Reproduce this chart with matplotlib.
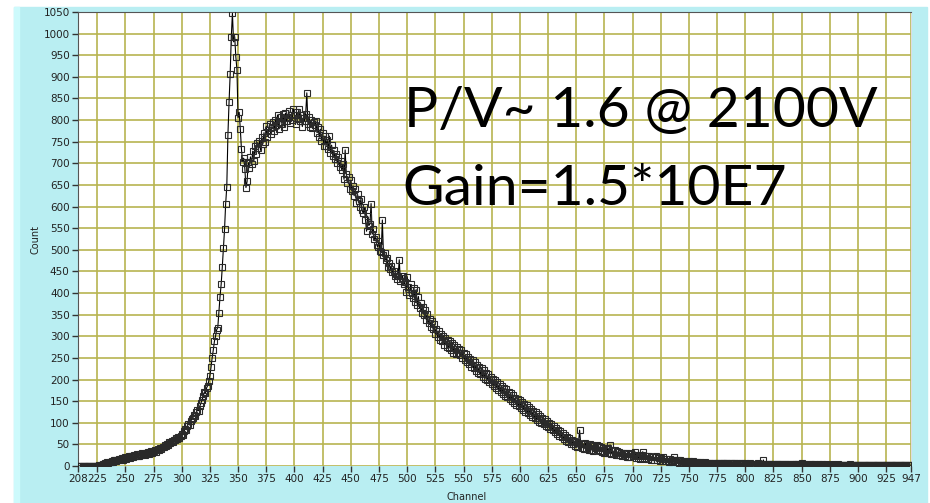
import matplotlib
matplotlib.use("Agg")
import matplotlib.pyplot as plt
from matplotlib.patches import Rectangle

# spectrum: one count per channel, channels 208..947
first_channel = 208
counts_rows = [
    [0, 0, 0, 0, 0, 0, 0, 0, 0, 0],                  # 208
    [0, 0, 0, 0, 0, 0, 0, 1, 1, 2],                  # 218
    [3, 2, 5, 4, 7, 6, 9, 8, 10, 9],                 # 228
    [12, 10, 14, 13, 11, 15, 17, 14, 16, 18],        # 238
    [15, 19, 21, 17, 20, 23, 19, 22, 24, 21],        # 248
    [25, 23, 27, 24, 22, 28, 26, 30, 27, 25],        # 258
    [31, 29, 33, 28, 32, 35, 30, 34, 37, 33],        # 268
    [36, 40, 38, 42, 39, 45, 43, 48, 46, 51],        # 278
    [49, 55, 53, 58, 56, 61, 59, 64, 62, 67],        # 288
    [65, 70, 74, 72, 80, 86, 84, 93, 98, 95],        # 298
    [104, 108, 112, 118, 115, 124, 130, 128, 138, 145],  # 308
    [152, 161, 170, 168, 180, 186, 196, 209, 228, 250],  # 318
    [268, 288, 300, 315, 320, 355, 392, 420, 460, 504],  # 328
    [547, 607, 646, 766, 841, 906, 993, 1047, 981, 993],  # 338
    [947, 917, 806, 818, 779, 733, 704, 712, 688, 644],  # 348
    [658, 702, 690, 715, 698, 728, 706, 740, 722, 748],  # 358
    [735, 752, 730, 760, 745, 771, 750, 786, 762, 778],  # 368
    [790, 768, 784, 796, 775, 801, 788, 812, 779, 795],  # 378
    [808, 790, 813, 785, 816, 798, 805, 822, 794, 811],  # 388
    [800, 826, 812, 790, 818, 803, 825, 797, 812, 785],  # 398
    [806, 798, 815, 863, 790, 808, 784, 800, 781, 796],  # 408
    [788, 798, 771, 785, 760, 779, 752, 770, 741, 763],  # 418
    [740, 755, 732, 763, 725, 742, 718, 730, 709, 722],  # 428
    [700, 715, 692, 705, 684, 698, 663, 731, 676, 655],  # 438
    [668, 640, 661, 636, 648, 625, 640, 609, 628, 613],  # 448
    [600, 617, 592, 584, 598, 570, 543, 578, 556, 560],  # 458
    [607, 536, 548, 524, 530, 512, 506, 520, 498, 495],  # 468
    [569, 488, 493, 476, 482, 460, 470, 455, 462, 448],  # 478
    [450, 439, 445, 432, 440, 477, 428, 435, 439, 420],  # 488
    [425, 402, 438, 415, 396, 420, 400, 388, 412, 380],  # 498
    [408, 372, 392, 365, 376, 355, 368, 350, 360, 338],  # 508
    [352, 330, 340, 322, 335, 316, 328, 306, 318, 298],  # 518
    [312, 292, 306, 288, 300, 280, 296, 276, 292, 272],  # 528
    [290, 268, 284, 262, 280, 258, 276, 262, 270, 256],  # 538
    [268, 250, 262, 244, 258, 240, 252, 236, 248, 230],  # 548
    [245, 226, 240, 220, 234, 216, 230, 212, 226, 206],  # 558
    [222, 202, 216, 198, 212, 194, 206, 190, 202, 184],  # 568
    [198, 180, 194, 176, 190, 170, 186, 166, 180, 162],  # 578
    [178, 160, 172, 154, 168, 150, 164, 146, 158, 142],  # 588
    [156, 138, 152, 134, 148, 130, 144, 126, 140, 122],  # 598
    [136, 118, 132, 114, 128, 110, 124, 106, 120, 102],  # 608
    [116, 100, 112, 96, 108, 92, 104, 90, 100, 86],      # 618
    [98, 84, 92, 78, 88, 74, 84, 70, 80, 66],            # 628
    [76, 62, 72, 58, 68, 56, 64, 52, 60, 50],            # 638
    [58, 46, 56, 44, 54, 83, 50, 42, 52, 40],            # 648
    [54, 40, 50, 38, 52, 36, 48, 35, 46, 42],            # 658
    [48, 36, 46, 34, 44, 33, 42, 31, 40, 30],            # 668
    [42, 30, 49, 28, 38, 27, 36, 26, 34, 25],            # 678
    [33, 26, 31, 24, 30, 22, 29, 21, 28, 20],            # 688
    [27, 30, 22, 26, 33, 19, 25, 18, 24, 17],            # 698
    [25, 33, 19, 24, 17, 23, 16, 22, 15, 21],            # 708
    [21, 14, 20, 22, 13, 19, 12, 18, 11, 20],            # 718
    [17, 11, 16, 12, 10, 17, 11, 9, 15, 20],             # 728
    [13, 9, 14, 8, 13, 7, 12, 8, 9, 12],                 # 738
    [10, 7, 11, 6, 10, 7, 11, 6, 10, 5],                 # 748
    [9, 5, 10, 6, 8, 4, 9, 5, 8, 4],                     # 758
    [7, 8, 4, 7, 5, 8, 3, 7, 5, 6],                      # 768
    [7, 4, 6, 8, 3, 6, 7, 4, 6, 3],                      # 778
    [6, 3, 7, 4, 6, 3, 6, 4, 5, 6],                      # 788
    [5, 3, 6, 5, 3, 5, 6, 3, 5, 4],                      # 798
    [5, 3, 5, 6, 3, 5, 3, 5, 14, 4],                     # 808
    [5, 3, 2, 5, 4, 5, 2, 4, 5, 3],                      # 818
    [4, 5, 2, 4, 3, 5, 4, 2, 4, 3],                      # 828
    [4, 2, 5, 3, 4, 2, 4, 5, 3, 4],                      # 838
    [3, 4, 7, 3, 4, 2, 4, 3, 2, 4],                      # 848
    [3, 4, 3, 2, 4, 3, 2, 4, 2, 3],                      # 858
    [4, 3, 2, 3, 4, 2, 3, 3, 2, 4],                      # 868
    [3, 2, 3, 2, 4, 3, 2, 3, 2, 3],                      # 878
    [2, 3, 2, 3, 2, 4, 2, 3, 2, 2],                      # 888
    [3, 2, 2, 3, 2, 3, 2, 2, 3, 2],                      # 898
    [2, 3, 2, 2, 3, 2, 2, 3, 2, 2],                      # 908
    [2, 2, 3, 2, 2, 2, 3, 2, 2, 2],                      # 918
    [3, 2, 2, 2, 2, 3, 2, 2, 2, 2],                      # 928
    [2, 2, 2, 2, 3, 2, 2, 2, 2, 2],                      # 938
]
counts = [c for row in counts_rows for c in row]
channels = list(range(first_channel, first_channel + len(counts)))

x_ticks = [208, 225, 250, 275, 300, 325, 350, 375, 400, 425, 450, 475, 500,
           525, 550, 575, 600, 625, 650, 675, 700, 725, 750, 775, 800, 825,
           850, 875, 900, 925, 947]
y_ticks = list(range(0, 1051, 50))

W, H = 930, 503
fig = plt.figure(figsize=(W / 100, H / 100), dpi=100)
fig.patch.set_facecolor("white")

# cyan frame behind the plot
fig.patches.append(Rectangle((14 / W, 0), (927 - 14) / W, (H - 7) / H,
                             transform=fig.transFigure, color="#b9eef2", zorder=-2))
fig.patches.append(Rectangle((14 / W, 0), 5 / W, (H - 7) / H,
                             transform=fig.transFigure, color="#cdfafc", zorder=-1))

ax = fig.add_axes([78 / W, (H - 466) / H, (911 - 78) / W, (466 - 12) / H])
ax.set_zorder(2)
ax.set_facecolor("white")

ax.plot(channels, counts, color="black", lw=0.8, marker="s", ms=4,
        mfc="none", mec="#2a2a2a", mew=0.8, zorder=3)

ax.set_xlim(208, 947)
ax.set_ylim(0, 1050)
ax.set_xticks(x_ticks)
ax.set_yticks(y_ticks)
ax.tick_params(labelsize=7.5, length=4, width=1, color="#333333",
               labelcolor="#222222", pad=2)
ax.grid(True, color="#b8b450", lw=1.2, zorder=1)
ax.set_axisbelow(True)

for side in ["left", "top"]:
    ax.spines[side].set_color("#555555")
ax.spines["right"].set_color("#dddddd")
ax.spines["bottom"].set_visible(False)

fig.text(35 / W, 1 - 240 / H, "Count", rotation=90, fontsize=7,
         ha="center", va="center", color="#222222")
fig.text(467 / W, 1 - 497 / H, "Channel", fontsize=7,
         ha="center", va="center", color="#222222")

txt_kw = dict(fontsize=41, family="Lato", ha="left", va="baseline",
              color="black", zorder=5)
fig.text(404 / W, 1 - 127 / H, "P/V~ 1.6 @ 2100V", **txt_kw)
fig.text(402 / W, 1 - 205 / H, "Gain=1.5*10E7", **txt_kw)

fig.savefig("out.png", dpi=100)
